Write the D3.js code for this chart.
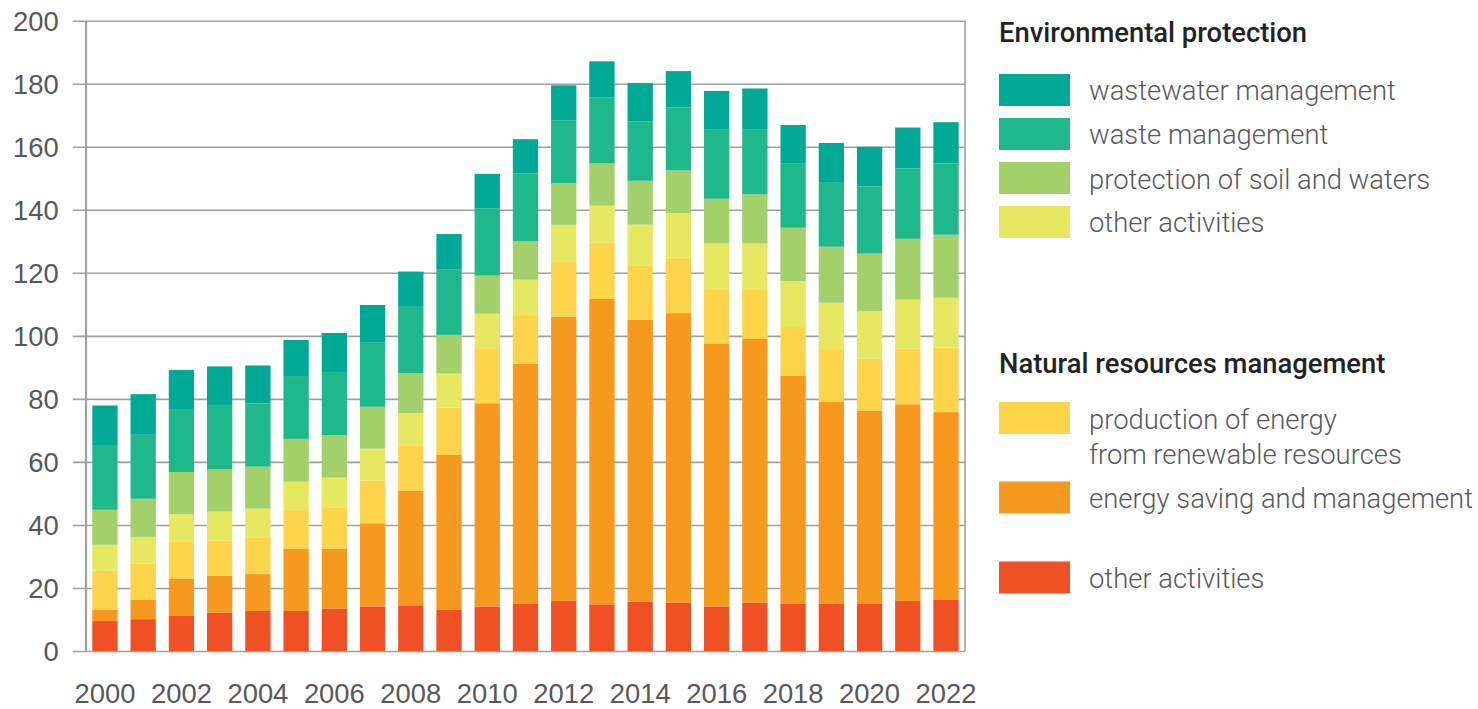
<!DOCTYPE html>
<html>
<head>
<meta charset="utf-8">
<script src="https://cdn.jsdelivr.net/npm/d3@7"></script>
<style>
  html, body { margin: 0; padding: 0; background: #fff; }
  svg { display: block; font-family: Roboto, "Noto Sans", sans-serif; }
</style>
</head>
<body>
<svg id="chart" width="1478" height="709"></svg>
<script>
// ---- data ----
const years = ["2000","2001","2002","2003","2004","2005","2006","2007","2008","2009","2010","2011",
               "2012","2013","2014","2015","2016","2017","2018","2019","2020","2021","2022"];
const xTickLabels = ["2000","2002","2004","2006","2008","2010","2012","2014","2016","2018","2020","2022"];
const yTicks = [0, 20, 40, 60, 80, 100, 120, 140, 160, 180, 200];

// stacked from bottom to top
const nrmOtherActivities   = [9.5,10.1,11.1,12.2,12.7,12.7,13.5,14.1,14.5,13.2,14.1,15.1,15.9,14.8,15.7,15.3,14.1,15.3,15.1,15.1,15.1,15.9,16.4];
const energySaving         = [3.7,6.1,11.9,11.6,11.7,19.8,19.0,26.4,36.3,49.0,64.5,76.0,90.2,96.9,89.4,91.9,83.5,83.7,72.2,63.9,61.1,62.4,59.4];
const renewableEnergy      = [12.3,11.6,11.8,11.3,11.7,12.2,12.9,13.6,14.3,15.0,17.5,15.5,17.3,17.9,17.3,17.6,17.2,15.8,15.5,16.8,16.6,17.6,20.5];
const epOtherActivities    = [8.2,8.4,8.6,9.1,9.1,9.0,9.6,10.1,10.4,10.8,10.9,11.2,11.8,11.7,12.9,14.1,14.5,14.5,14.6,14.7,15.0,15.6,15.8];
const soilWaters           = [11.1,12.1,13.4,13.4,13.3,13.6,13.5,13.3,12.7,12.3,12.1,12.3,13.3,13.4,13.9,13.6,14.2,15.6,16.9,17.8,18.3,19.3,20.0];
const wasteManagement      = [20.3,20.3,20.0,20.2,20.0,19.7,20.0,20.5,21.0,20.7,21.4,21.4,19.8,21.0,18.8,20.0,21.9,20.5,20.5,20.5,21.3,22.3,22.6];
const wastewaterManagement = [12.8,12.9,12.4,12.5,12.1,11.7,12.4,11.8,11.2,11.3,10.9,10.9,11.2,11.4,12.2,11.5,12.3,13.1,12.1,12.4,12.6,13.0,13.1];

const seriesKeys = ["nrmOther","energySaving","renewable","epOther","soil","waste","wastewater"];
const seriesValues = {
  nrmOther: nrmOtherActivities, energySaving: energySaving, renewable: renewableEnergy,
  epOther: epOtherActivities, soil: soilWaters, waste: wasteManagement, wastewater: wastewaterManagement
};
const colors = {
  wastewater: "#00a896", waste: "#1eb88b", soil: "#a3d06b", epOther: "#e7e862",
  renewable: "#fed44d", energySaving: "#f7981f", nrmOther: "#ef5125"
};

const legendEP = [
  {key: "wastewater", label: ["wastewater management"]},
  {key: "waste", label: ["waste management"]},
  {key: "soil", label: ["protection of soil and waters"]},
  {key: "epOther", label: ["other activities"]}
];
const legendNRM = [
  {key: "renewable", label: ["production of energy", "from renewable resources"]},
  {key: "energySaving", label: ["energy saving and management"]},
  {key: "nrmOther", label: ["other activities"]}
];

// ---- chart ----
(function () {
const svg = d3.select("#chart");
const pLeft = 86, pRight = 965, pTop = 20.7, pBottom = 651;
const textColor = "#58585b";
const fontSize = 27.4;

const x = d3.scaleBand().domain(years).range([pLeft, pRight]).paddingInner(0.338).paddingOuter(0.165);
const y = d3.scaleLinear().domain([0, 200]).range([pBottom, pTop]);

const table = years.map((yr, i) => {
  const o = {year: yr};
  seriesKeys.forEach(k => o[k] = seriesValues[k][i]);
  return o;
});
const stacked = d3.stack().keys(seriesKeys)(table);

const gridColor = "#a0a0a2";

// gridlines + y axis labels
const gy = svg.append("g").attr("transform", `translate(${pRight},0)`);
gy.call(d3.axisLeft(y).tickValues(yTicks).tickSize(pRight - pLeft + 13.3).tickPadding(14).tickFormat(d3.format("d")));
gy.select(".domain").remove();
gy.selectAll(".tick line").attr("stroke", gridColor).attr("stroke-width", 1.6);
gy.selectAll(".tick text")
  .attr("fill", textColor).attr("font-size", fontSize).attr("font-weight", 300)
  .attr("dy", "0.36em");

// frame: left axis + right border
svg.append("line").attr("x1", pLeft).attr("x2", pLeft).attr("y1", pTop).attr("y2", pBottom)
  .attr("stroke", gridColor).attr("stroke-width", 2.2);
svg.append("line").attr("x1", pRight).attr("x2", pRight).attr("y1", pTop).attr("y2", pBottom)
  .attr("stroke", gridColor).attr("stroke-width", 1.6);

// bars
svg.append("g").selectAll("g").data(stacked).join("g")
  .attr("fill", d => colors[d.key])
  .selectAll("rect").data(d => d).join("rect")
  .attr("x", d => x(d.data.year))
  .attr("width", x.bandwidth())
  .attr("y", d => y(d[1]))
  .attr("height", d => y(d[0]) - y(d[1]));

// x axis labels
const gx = svg.append("g").attr("transform", `translate(0,${pBottom})`)
  .call(d3.axisBottom(x).tickValues(xTickLabels).tickSize(0).tickPadding(33));
gx.select(".domain").remove();
gx.selectAll(".tick text").attr("fill", textColor).attr("font-size", fontSize).attr("font-weight", 300);

// legend
function drawLegend(title, items, titleY, rows) {
  const g = svg.append("g");
  g.append("text").attr("x", 999).attr("y", titleY).text(title)
    .attr("font-size", 27.4).attr("font-weight", 500).attr("fill", "#232325");
  items.forEach((it, i) => {
    const r = rows[i];
    g.append("rect").attr("x", 999).attr("y", r.sy).attr("width", 71).attr("height", 32)
      .attr("fill", colors[it.key]);
    it.label.forEach((ln, j) => {
      g.append("text").attr("x", 1089).attr("y", r.ty + j * 35).text(ln)
        .attr("font-size", fontSize).attr("font-weight", 300).attr("fill", textColor);
    });
  });
}
drawLegend("Environmental protection", legendEP, 41.5, [
  {sy: 74, ty: 100}, {sy: 118, ty: 144}, {sy: 162, ty: 188.5}, {sy: 206, ty: 232}
]);
drawLegend("Natural resources management", legendNRM, 373, [
  {sy: 402, ty: 429}, {sy: 481.5, ty: 508}, {sy: 561.5, ty: 587.5}
]);
})();
</script>
</body>
</html>
